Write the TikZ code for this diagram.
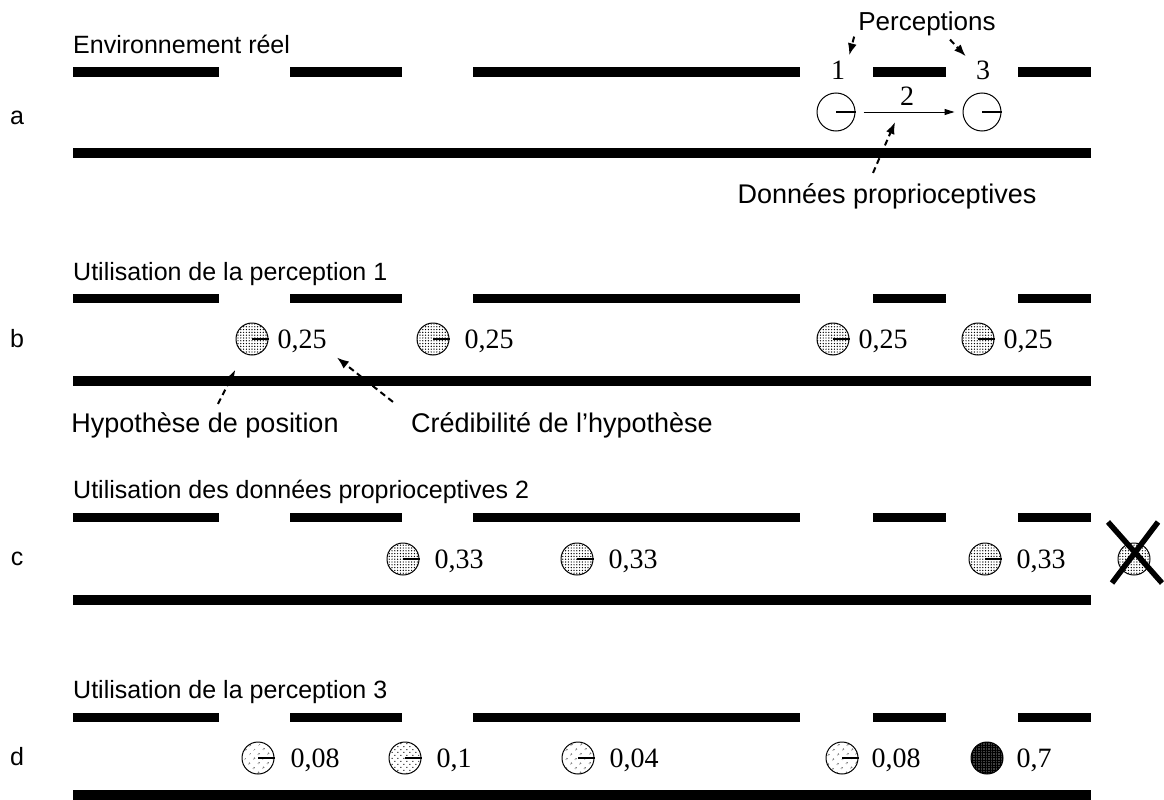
\documentclass[tikz,border=0pt]{standalone}
\usepackage{fontspec}
\setmainfont{Liberation Serif}
\newfontfamily\lsans{Liberation Sans}
\usetikzlibrary{arrows.meta,patterns.meta,calc}
\newcommand{\rowwalls}[2]{%
  \draw[wall] (73,#1)--(219,#1) (290,#1)--(402,#1) (473,#1)--(800,#1) (873,#1)--(946,#1) (1018,#1)--(1091,#1);
  \draw[wall,line width=10pt] (73,#2)--(1091,#2);}
\begin{document}
\begin{tikzpicture}[x=1pt,y=-1pt,
  wall/.style={line width=9pt},
  lbl/.style={font=\lsans\fontsize{25}{30}\selectfont, inner sep=0pt},
  ann/.style={font=\lsans\fontsize{27}{32}\selectfont, inner sep=0pt},
  num/.style={font=\fontsize{28}{32}\selectfont, inner sep=0pt, anchor=base west},
  hyp/.style={circle, draw, line width=1pt, minimum size=32pt, inner sep=0pt},
  bighyp/.style={hyp, minimum size=38pt},
  head/.style={line width=1.1pt},
  dense/.style={pattern={Dots[distance=2.8pt,radius=0.7pt]}},
  medium/.style={pattern={Dots[distance=4.2pt,radius=0.7pt,angle=45]}},
  sparse/.style={pattern={Dots[distance=6.5pt,radius=0.8pt,angle=45]}},
  dark/.style={fill=black!75, postaction={pattern={Hatch[distance=2.5pt,line width=0.7pt]}}},
  dasharrow/.style={line width=2pt, dash pattern=on 6pt off 4pt, -{Latex[length=12pt,width=9pt]}},
  movearrow/.style={line width=1pt, -{Triangle[length=10pt,width=6pt]}, shorten <=8pt, shorten >=8pt},
]
\useasboundingbox (0,0) rectangle (1164,800);

% ---------- row a ----------
\node[lbl, anchor=base] (la) at (17,124) {a};
\node[lbl, anchor=base west] (ta) at (73,53) {Environnement réel};
\rowwalls{72}{153}
\node[bighyp] (a1) at (836,112) {};
\node[bighyp] (a3) at (982,112) {};
\draw[head] (a1.center) -- (a1.east);
\draw[head] (a3.center) -- (a3.east);
\draw[movearrow] (a1) -- (a3);
\node[num, anchor=base] (n1) at (838,80) {1};
\node[num, anchor=base] (n2) at (907,105) {2};
\node[num, anchor=base] (n3) at (983,80) {3};
\node[font=\lsans\fontsize{26}{30}\selectfont, inner sep=0pt, anchor=base] (perc) at (927,31) {Perceptions};
\draw[dasharrow] ([xshift=-4pt]perc.south west) -- ([xshift=4pt,yshift=6pt]n1.north east);
\draw[dasharrow] ([xshift=23pt,yshift=-3pt]perc.south) -- ([xshift=-10pt,yshift=5pt]n3.north west);
\node[ann, anchor=base] (don) at (887,203) {Données proprioceptives};
\coordinate (mid) at ($(a1.east)!0.37!(a3.west)+(0,10)$);
\draw[dasharrow] ([xshift=-14pt,yshift=10pt]don.north) -- (mid);

% ---------- row b ----------
\node[lbl, anchor=base] (lb) at (17,347) {b};
\node[lbl, anchor=base west] (tb) at (73,280) {Utilisation de la perception 1};
\rowwalls{298}{381}
\foreach \i/\x/\g in {1/252/9, 2/433/15, 3/833/9, 4/978/9} {
  \node[hyp, dense] (b\i) at (\x,339) {};
  \draw[head] (b\i.center) -- (b\i.east);
  \node[num] (pb\i) at ($(b\i.east)+(\g,9)$) {0,25};
}
\node[ann, anchor=base] (hypo) at (205,432) {Hypothèse de position};
\node[ann, anchor=base] (cred) at (562,432) {Crédibilité de l’hypothèse};
\draw[dasharrow] ([xshift=13pt,yshift=8pt]hypo.north) -- ([xshift=-5pt,yshift=-19pt]b1.south west);
\draw[dasharrow] ([xshift=-18pt,yshift=10pt]cred.north west) -- ([xshift=10pt,yshift=-5pt]pb1.south east);

% ---------- row c ----------
\node[lbl, anchor=base] (lc) at (17,565) {c};
\node[lbl, anchor=base west] (tc) at (73,498) {Utilisation des données proprioceptives 2};
\rowwalls{517}{600}
\foreach \i/\x in {1/403, 2/577, 3/985} {
  \node[hyp, dense] (c\i) at (\x,559) {};
  \draw[head] (c\i.center) -- (c\i.east);
  \node[num] (pc\i) at ($(c\i.east)+(15,9)$) {0,33};
}
\node[hyp, dense] (c4) at (1134,559) {};
\draw[line width=5.5pt] (1108,522) -- (1162,583);
\draw[line width=5.5pt] (1112,583) -- (1158,522);

% ---------- row d ----------
\node[lbl, anchor=base] (ld) at (17,765) {d};
\node[lbl, anchor=base west] (td) at (73,698) {Utilisation de la perception 3};
\rowwalls{717}{795}
\node[hyp, sparse] (d1) at (258,758) {};
\node[hyp, medium] (d2) at (405,758) {};
\node[hyp, sparse] (d3) at (578,758) {};
\node[hyp, sparse] (d4) at (842,758) {};
\node[hyp, dark] (d5) at (987,758) {};
\foreach \i in {1,2,3,4} {\draw[head] (d\i.center) -- (d\i.east);}
\node[num] (pd1) at ($(d1.east)+(16,9)$) {0,08};
\node[num] (pd2) at ($(d2.east)+(15,9)$) {0,1};
\node[num] (pd3) at ($(d3.east)+(15,9)$) {0,04};
\node[num] (pd4) at ($(d4.east)+(13,9)$) {0,08};
\node[num] (pd5) at ($(d5.east)+(13,9)$) {0,7};
\end{tikzpicture}
\end{document}
